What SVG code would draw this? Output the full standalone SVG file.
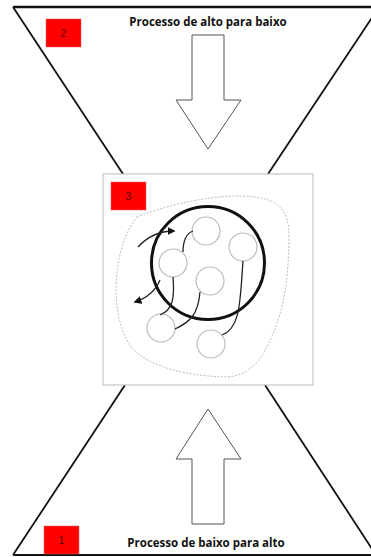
<svg xmlns="http://www.w3.org/2000/svg" width="371" height="557" viewBox="0 0 371 557">
<defs>
<style>
.frame{fill:none;stroke:#111;stroke-width:1.8}
.bigarrow{fill:#fff;stroke:#555;stroke-width:1}
.red{fill:#ff0000;stroke:#e55;stroke-width:0.5}
.num{font-family:"Liberation Sans",Arial,sans-serif;font-size:10px;fill:#500;text-anchor:middle}
.title{font-family:"Open Sans","Liberation Sans",sans-serif;font-size:11.5px;font-weight:bold;fill:#111;text-anchor:middle}
.node{fill:#fff;stroke:#bbb;stroke-width:1.2}
.link{fill:none;stroke:#222;stroke-width:1.3}
</style>
<marker id="ah" viewBox="0 0 10 10" refX="8" refY="5" markerWidth="8" markerHeight="8" orient="auto" markerUnits="userSpaceOnUse">
<path d="M0,0 L10,5 L0,10 z" fill="#111"/>
</marker>
</defs>
<rect width="371" height="557" fill="#fff"/>

<g id="top-funnel">
<line class="frame" x1="13" y1="7" x2="371" y2="7" style="stroke-width:2.6"/>
<line class="frame" x1="13" y1="7" x2="123" y2="174"/>
<line class="frame" x1="379" y1="7" x2="268" y2="174"/>
<polygon class="bigarrow" points="192,35 224,35 224,100 241,100 208,149 176,100 192,100"/>
<text class="title" x="208" y="26">Processo de alto para baixo</text>
<rect class="red" x="46" y="19" width="35" height="28"/>
<text class="num" x="63.5" y="37">2</text>
</g>

<g id="bottom-funnel">
<line class="frame" x1="13" y1="555" x2="371" y2="555" style="stroke-width:2.2"/>
<line class="frame" x1="13" y1="555" x2="125" y2="385"/>
<line class="frame" x1="265" y1="385" x2="376" y2="555"/>
<polygon class="bigarrow" points="192,524 224,524 224,459 241,459 208,409 176,459 192,459"/>
<text class="title" x="206" y="547">Processo de baixo para alto</text>
<rect class="red" x="44" y="526" width="35" height="28"/>
<text class="num" x="61.5" y="544">1</text>
</g>

<g id="center-box">
<rect x="103" y="174" width="210" height="211" fill="#fff" stroke="#bbb" stroke-width="1"/>
<rect class="red" x="111" y="182" width="35" height="28"/>
<text class="num" x="128.5" y="200">3</text>
<path d="M137,217 C160,208 200,196 240,196 C275,197 290,205 289,240 C288,280 285,310 268,345 C258,365 245,377 225,377 C190,376 150,368 132,348 C115,325 114,290 118,265 C121,245 128,228 137,217 Z" fill="none" stroke="#aaa" stroke-width="0.8" stroke-dasharray="2,1.5"/>
<circle cx="208" cy="263" r="56.5" fill="none" stroke="#111" stroke-width="3"/>
</g>

<g id="nodes">
<circle id="n1" class="node" cx="206" cy="231" r="14"/>
<circle id="n2" class="node" cx="243" cy="247" r="14"/>
<circle id="n3" class="node" cx="173" cy="263" r="14"/>
<circle id="n4" class="node" cx="210" cy="281" r="14"/>
<circle id="n5" class="node" cx="161" cy="328" r="14"/>
<circle id="n6" class="node" cx="211" cy="344" r="14"/>
</g>

<g id="connectors">
<path class="link" d="M193,231 C185,234 183,242 183,252"/>
<path class="link" d="M173,277 C175,300 172,310 160,315"/>
<path class="link" d="M200,292 C198,315 190,322 175,329"/>
<path class="link" d="M243,261 C240,300 241,328 222,335"/>
<path class="link" d="M138,247 C148,236 160,231 174,231" marker-end="url(#ah)"/>
<path class="link" d="M160,280 C155,292 147,298 135,302" marker-end="url(#ah)"/>
</g>
</svg>
